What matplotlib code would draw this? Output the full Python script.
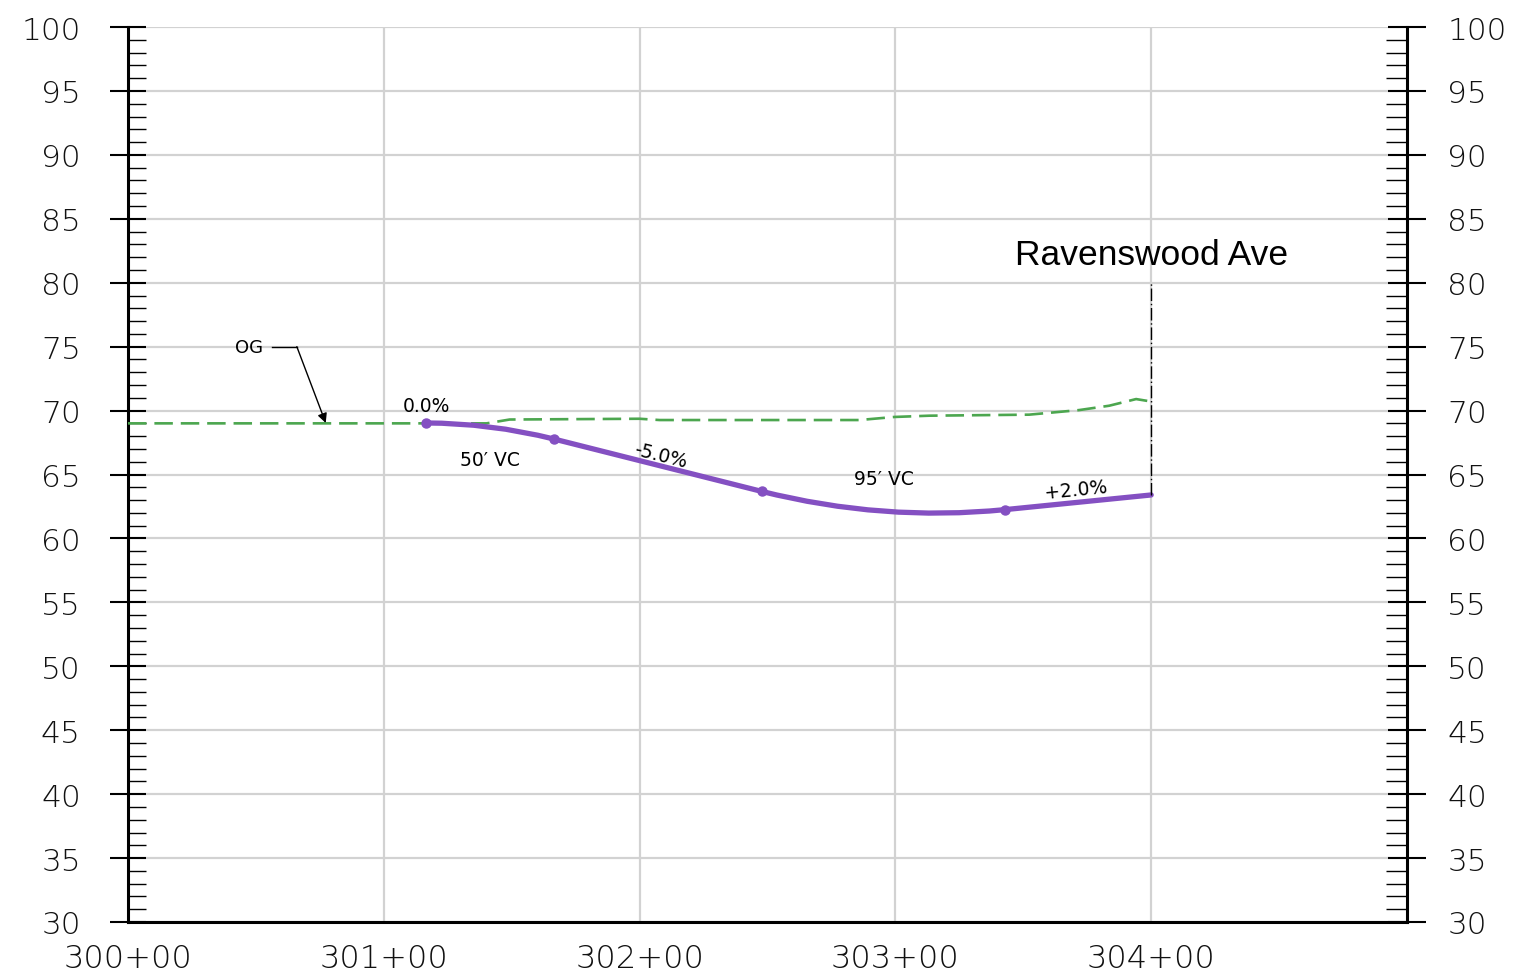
import matplotlib
matplotlib.use("Agg")
import matplotlib.pyplot as plt
from matplotlib.path import Path
from matplotlib.patches import PathPatch
from matplotlib.ticker import MultipleLocator, FixedLocator, FuncFormatter

# ---------------- data ----------------
# Proposed profile key points: PVC1, PVI1, PVT1, PVC2, PVI2, PVT2, END
prof_sta = [30116.4, 30141.4, 30166.4, 30247.7, 30295.2, 30342.7, 30400.0]
prof_elev = [69.03, 69.03, 67.78, 63.68, 61.30, 62.25, 63.40]
# points marked with dots (PVC1, PVT1, PVC2, PVT2)
mark_sta = [30116.4, 30166.4, 30247.7, 30342.7]
mark_elev = [69.03, 67.78, 63.68, 62.25]

# Original ground (OG)
og_sta = [30000.0, 30140.2, 30149.2, 30200.0, 30207.8, 30285.9, 30299.6,
          30313.3, 30352.3, 30371.9, 30383.6, 30394.1, 30399.6]
og_elev = [69.00, 69.00, 69.30, 69.36, 69.26, 69.26, 69.50,
           69.60, 69.68, 70.04, 70.38, 70.90, 70.72]

x_ticks = [30000, 30100, 30200, 30300, 30400]
y_min, y_max = 30, 100
x_min, x_max = 30000, 30500

labels = ["0.0%", "50′ VC", "-5.0%", "95′ VC", "+2.0%"]
label_sta = [30116.8, 30141.4, 30208.2, 30295.7, 30370.7]
label_elev = [70.43, 66.21, 66.52, 64.65, 63.87]
label_rot = [0, 0, -14, 0, 5.7]

road_name = "Ravenswood Ave"
road_sta = 30400.0
road_line_top = 80.0
road_text_elev = 82.2

og_text_sta, og_text_elev = 30052.7, 75.0
og_leader_sta = [30056.25, 30066.0]
og_leader_elev = [75.0, 75.0]
og_arrow_tip = (30077.3, 69.03)

# ---------------- figure ----------------
FONT = "DejaVu Sans"
fig = plt.figure(figsize=(15.18, 9.78), dpi=100)
ax = fig.add_axes([128 / 1518, 1 - 923 / 978, (1407 - 128) / 1518, (923 - 28) / 978])
ax.set_xlim(x_min, x_max)
ax.set_ylim(y_min, y_max)

grid_c = "#d2d2d2"
ax.xaxis.set_major_locator(FixedLocator(x_ticks))
ax.xaxis.set_major_formatter(FuncFormatter(lambda v, p: f"{int(v) // 100}+{int(v) % 100:02d}"))
ax.yaxis.set_major_locator(MultipleLocator(5))
ax.yaxis.set_minor_locator(MultipleLocator(1))
ax.grid(True, which="major", color=grid_c, lw=1.6, zorder=0)
ax.set_axisbelow(True)

for s in ["top", "right"]:
    ax.spines[s].set_visible(False)
for s in ["left", "bottom"]:
    ax.spines[s].set_linewidth(2.2)

ax.tick_params(axis="x", length=0, pad=15, labelsize=23)
ax.tick_params(axis="y", which="major", direction="inout", length=26, width=1.5,
               pad=21.0, labelsize=22.5)
ax.tick_params(axis="y", which="minor", direction="in", length=13, width=1.0)

ax2 = ax.twinx()
ax2.set_ylim(y_min, y_max)
ax2.yaxis.set_major_locator(MultipleLocator(5))
ax2.yaxis.set_minor_locator(MultipleLocator(1))
for s in ["top", "left", "bottom"]:
    ax2.spines[s].set_visible(False)
ax2.spines["right"].set_linewidth(2.2)
ax2.tick_params(axis="y", which="major", direction="inout", length=28, width=1.5,
                pad=15.0, labelsize=22.5)
ax2.tick_params(axis="y", which="minor", direction="in", length=15, width=1.0)

for a in (ax, ax2):
    for lab in a.get_xticklabels() + a.get_yticklabels():
        lab.set_fontfamily(FONT)
        lab.set_fontweight("light")
        lab.set_color("#111111")

# OG line
ax.plot(og_sta, og_elev, color="#4ca64f", lw=1.9, dashes=(7, 3), zorder=3)

# proposed profile as parabolic vertical curves (quadratic Bezier through PVIs)
verts = list(zip(prof_sta, prof_elev))
codes = [Path.MOVETO, Path.CURVE3, Path.CURVE3, Path.LINETO, Path.CURVE3, Path.CURVE3, Path.LINETO]
prof = PathPatch(Path(verts, codes), facecolor="none", edgecolor="#8450c2", lw=3.8,
                 capstyle="round", joinstyle="round", zorder=4)
ax.add_patch(prof)
ax.plot(mark_sta, mark_elev, "o", color="#8450c2", ms=6.5, zorder=5)

# road crossing
ax.plot([road_sta, road_sta], [prof_elev[-1], road_line_top], color="black", lw=1.0,
        ls=(0, (9, 2, 1, 2)), zorder=6)
ax.text(road_sta, road_text_elev, road_name, ha="center", va="center",
        fontsize=25.5, family="Liberation Sans", color="black", zorder=7)

# annotations
for t, sx, sy, r in zip(labels, label_sta, label_elev, label_rot):
    ax.text(sx, sy, t, ha="center", va="center", rotation=r, fontsize=13.5,
            family=[FONT], fontweight="normal", color="black", zorder=7)

ax.text(og_text_sta, og_text_elev, "OG", ha="right", va="center", fontsize=13,
        family=[FONT], fontweight="normal", color="black", zorder=7)
ax.plot(og_leader_sta, og_leader_elev, color="black", lw=1.0, zorder=7)
ax.annotate("", xy=og_arrow_tip, xytext=(og_leader_sta[-1], og_leader_elev[-1]),
            arrowprops=dict(arrowstyle="-|>", color="black", lw=1.0,
                            mutation_scale=14, shrinkA=0, shrinkB=0), zorder=7)

fig.savefig("out.png", dpi=100)
